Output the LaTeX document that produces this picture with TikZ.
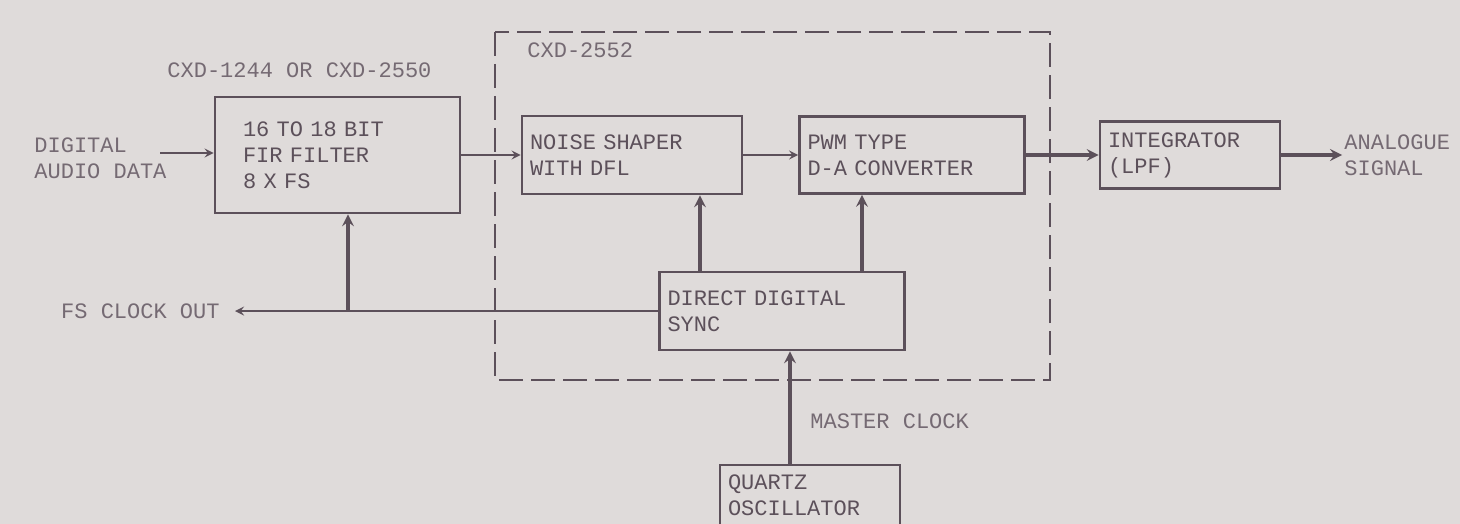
\documentclass[tikz,border=0pt]{standalone}
\usepackage{fontspec}
\setmonofont{Liberation Mono}
\usetikzlibrary{positioning}
\definecolor{paper}{RGB}{223,219,218}
\definecolor{ink}{RGB}{92,80,90}
\begin{document}
\begin{tikzpicture}
[x=0.5pt,y=-0.5pt,>=stealth,
 blok/.style={draw=ink,line width=1.3pt,inner ysep=3pt,align=left,text=ink,
   font=\ttfamily\fontsize{11}{13}\selectfont},
 lbl/.style={inner sep=1pt,align=left,text=ink!85,
   font=\ttfamily\fontsize{11}{13}\selectfont},
 wire/.style={draw=ink,line width=1pt},
 bus/.style={draw=ink,line width=1.6pt}]
\path[use as bounding box,fill=paper] (0,0) rectangle (1460,524);

% chip boundary
\draw [ink,line width=1pt,dash pattern=on 12pt off 4pt] (495,32) rectangle (1050,380);

% nodes
\node [blok, minimum width=122.5pt, minimum height=58pt, inner xsep=14pt, text width=94.5pt] (filt) at (337.5,155) {16 TO 18 BIT\\FIR FILTER\\8 X FS};
\node [blok, minimum width=110pt, minimum height=39pt, inner xsep=4pt, text width=102pt] (ns) at (632,155) {NOISE SHAPER\\WITH DFL};
\node [blok, minimum width=112.5pt, minimum height=38.5pt, inner xsep=4pt, text width=104.5pt] (pwm) at (912,155) {PWM TYPE\\D-A CONVERTER};
\node [blok, minimum width=90pt, minimum height=33.5pt, inner xsep=4pt, text width=82pt] (integ) at (1190,155) {INTEGRATOR\\(LPF)};
\node [blok, minimum width=122.5pt, minimum height=39pt, inner xsep=4pt, text width=114.5pt] (dds) at (782,311) {DIRECT DIGITAL\\SYNC};
\node [blok, minimum width=90pt, minimum height=30pt, inner xsep=4pt, text width=82pt] (osc) at (810,495) {QUARTZ\\OSCILLATOR};

% labels
\node [lbl, anchor=west] (din) at (32,158) {DIGITAL\\AUDIO DATA};
\node [lbl, anchor=west] (outsig) at (1342,155) {ANALOGUE\\SIGNAL};
\node [lbl, anchor=east] (fslbl) at (222,311) {FS CLOCK OUT};
\node [lbl, anchor=west] (chip1) at (165,70) {CXD-1244 OR CXD-2550};
\node [lbl, anchor=west] (chip2) at (525,50) {CXD-2552};
\node [lbl, anchor=west] (mclk) at (808,421) {MASTER CLOCK};

% arrows 1
\coordinate (dinend) at (160,153);
\draw [wire,->] (dinend) -- (dinend -| filt.west);
\draw [wire,->] (filt.east) -- (ns.west);
\draw [wire,->] (ns) -- (pwm);
\draw [bus,->] (pwm) -- (integ);
\draw [bus,->] (integ) -- (outsig);

% arrows 2
\coordinate (c1) at (700,0);
\coordinate (c2) at (862,0);
\coordinate (c3) at (790,0);
\coordinate (c4) at (348,0);
\coordinate (fsout) at (235,311);
\draw [bus,->] (dds.north -| c1) -- (ns.south -| c1);
\draw [bus,->] (dds.north -| c2) -- (pwm.south -| c2);
\draw [bus,->] (osc.north -| c3) -- (dds.south -| c3);
\draw [wire,->] (dds.west) -- (fsout);
\draw [bus,->] (dds.west -| c4) -- (filt.south -| c4);

\end{tikzpicture}
\end{document}
